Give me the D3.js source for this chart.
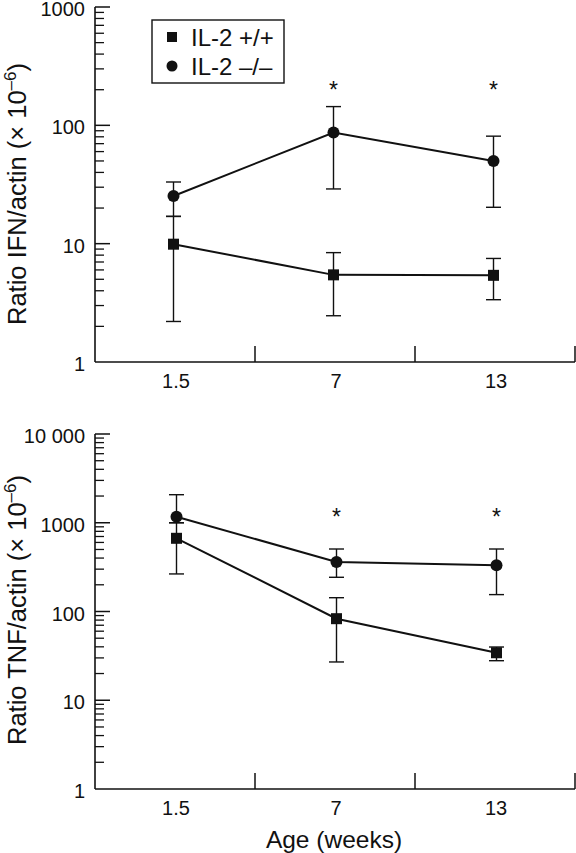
<!DOCTYPE html>
<html>
<head>
<meta charset="utf-8">
<script src="https://cdn.jsdelivr.net/npm/d3@7"></script>
<style>
  html, body { margin: 0; padding: 0; background: #fff; }
  svg { display: block; }
  text { font-family: "Liberation Sans", Arial, Helvetica, sans-serif; fill: #111; }
</style>
</head>
<body>
<svg id="chart" width="576" height="853"></svg>
<script>
// ---------- data ----------
const categories = ["1.5", "7", "13"];          // age (weeks)
const seriesNames = ["IL-2 +/+", "IL-2 \u2013/\u2013"];

// IFN / actin (x10^-6)
const ifnWT      = [9.9, 5.45, 5.4];
const ifnWTLow   = [2.2, 2.46, 3.36];
const ifnWTHigh  = [17, 8.4, 7.5];
const ifnKO      = [25.3, 87, 50];
const ifnKOLow   = [17, 29, 20.3];
const ifnKOHigh  = [33.2, 144, 81];
const ifnSignif  = [false, true, true];

// TNF / actin (x10^-6)
const tnfWT      = [668, 83, 34.3];
const tnfWTLow   = [265, 27, 27.9];
const tnfWTHigh  = [1000, 143, 39.8];
const tnfKO      = [1170, 361, 331];
const tnfKOLow   = [1000, 243, 155];
const tnfKOHigh  = [2070, 506, 506];
const tnfSignif  = [false, true, true];

const ifnTicks = [1, 10, 100, 1000];
const ifnTickLabels = ["1", "10", "100", "1000"];
const tnfTicks = [1, 10, 100, 1000, 10000];
const tnfTickLabels = ["1", "10", "100", "1000", "10 000"];

// ---------- drawing ----------
const svg = d3.select("#chart");
const axisX0 = 95, axisX1 = 575;

function panel(cfg) {
  const g = svg.append("g");
  const x = d3.scaleBand().domain(categories).range([axisX0, axisX1]);
  const cx = d => x(d) + x.bandwidth() / 2 + cfg.dx;
  const y = d3.scaleLog().domain(cfg.domain).range([cfg.yBottom, cfg.yTop]);

  // y axis line
  g.append("line").attr("x1", axisX0).attr("x2", axisX0)
    .attr("y1", y(cfg.domain[0])).attr("y2", y(cfg.domain[1]))
    .attr("stroke", "#111").attr("stroke-width", 1.6);
  // minor + major ticks
  const minor = [];
  for (let dec = cfg.domain[0]; dec < cfg.domain[1]; dec *= 10)
    for (let m = 2; m <= 9; m++) minor.push(dec * m);
  g.selectAll(".minor").data(minor).join("line")
    .attr("x1", axisX0).attr("x2", axisX0 + 9)
    .attr("y1", d => y(d)).attr("y2", d => y(d))
    .attr("stroke", "#111").attr("stroke-width", 1.3);
  g.selectAll(".major").data(cfg.ticks.slice(1)).join("line")
    .attr("x1", axisX0).attr("x2", axisX0 + 15)
    .attr("y1", d => y(d)).attr("y2", d => y(d))
    .attr("stroke", "#111").attr("stroke-width", 1.5);
  g.selectAll(".ylab").data(cfg.ticks).join("text")
    .attr("x", 85).attr("y", d => y(d) + 9)
    .attr("text-anchor", "end").attr("font-size", 20)
    .text((d, i) => cfg.tickLabels[i]);

  // x axis
  g.append("line").attr("x1", axisX0).attr("x2", axisX1)
    .attr("y1", cfg.yBottom).attr("y2", cfg.yBottom)
    .attr("stroke", "#111").attr("stroke-width", 1.6);
  const bounds = categories.slice(1).map(c => x(c)).concat([axisX1]);
  g.selectAll(".xt").data(bounds).join("line")
    .attr("x1", d => d).attr("x2", d => d)
    .attr("y1", cfg.yBottom).attr("y2", cfg.yBottom - 16)
    .attr("stroke", "#111").attr("stroke-width", 1.5);
  g.selectAll(".xlab").data(categories).join("text")
    .attr("x", d => x(d) + x.bandwidth() / 2 + 1).attr("y", cfg.yBottom + 26)
    .attr("text-anchor", "middle").attr("font-size", 20)
    .text(d => d);

  // y title
  const t = g.append("text")
    .attr("transform", `translate(26,${cfg.titleY}) rotate(-90)`)
    .attr("text-anchor", "middle").attr("font-size", 25.5);
  t.append("tspan").text(cfg.title + " (\u00d7 10");
  t.append("tspan").attr("dy", -10).attr("font-size", 17).text("\u20136");
  t.append("tspan").attr("dy", 10).text(")");

  // series
  const series = [
    { v: cfg.wt, lo: cfg.wtLo, hi: cfg.wtHi, shape: "square" },
    { v: cfg.ko, lo: cfg.koLo, hi: cfg.koHi, shape: "circle" }
  ];
  series.forEach(s => {
    const pts = categories.map((c, i) => ({ c, v: s.v[i], lo: s.lo[i], hi: s.hi[i] }));
    // error bars
    const eb = g.append("g").attr("stroke", "#111").attr("stroke-width", 1.4);
    eb.selectAll(".v").data(pts).join("line")
      .attr("x1", d => cx(d.c)).attr("x2", d => cx(d.c))
      .attr("y1", d => y(d.lo)).attr("y2", d => y(d.hi));
    eb.selectAll(".capH").data(pts).join("line")
      .attr("x1", d => cx(d.c) - 7.5).attr("x2", d => cx(d.c) + 7.5)
      .attr("y1", d => y(d.hi)).attr("y2", d => y(d.hi));
    eb.selectAll(".capL").data(pts).join("line")
      .attr("x1", d => cx(d.c) - 7.5).attr("x2", d => cx(d.c) + 7.5)
      .attr("y1", d => y(d.lo)).attr("y2", d => y(d.lo));
    // line
    g.append("path").datum(pts)
      .attr("d", d3.line().x(d => cx(d.c)).y(d => y(d.v)))
      .attr("fill", "none").attr("stroke", "#111").attr("stroke-width", 2);
    // markers
    if (s.shape === "square") {
      g.selectAll(null).data(pts).join("rect")
        .attr("x", d => cx(d.c) - 5.5).attr("y", d => y(d.v) - 5.5)
        .attr("width", 11).attr("height", 11).attr("fill", "#111");
    } else {
      g.selectAll(null).data(pts).join("circle")
        .attr("cx", d => cx(d.c)).attr("cy", d => y(d.v))
        .attr("r", 6).attr("fill", "#111");
    }
  });

  // significance asterisks
  g.selectAll(".ast").data(categories.filter((c, i) => cfg.signif[i])).join("text")
    .attr("x", d => cx(d)).attr("y", cfg.astY + 13)
    .attr("text-anchor", "middle").attr("font-size", 23)
    .text("*");
}

panel({
  domain: [1, 1000], yBottom: 362, yTop: 7, dx: -1.5,
  ticks: ifnTicks, tickLabels: ifnTickLabels,
  title: "Ratio IFN/actin", titleY: 194,
  wt: ifnWT, wtLo: ifnWTLow, wtHi: ifnWTHigh,
  ko: ifnKO, koLo: ifnKOLow, koHi: ifnKOHigh,
  signif: ifnSignif, astY: 85
});

panel({
  domain: [1, 10000], yBottom: 789, yTop: 434, dx: 1.5,
  ticks: tnfTicks, tickLabels: tnfTickLabels,
  title: "Ratio TNF/actin", titleY: 610,
  wt: tnfWT, wtLo: tnfWTLow, wtHi: tnfWTHigh,
  ko: tnfKO, koLo: tnfKOLow, koHi: tnfKOHigh,
  signif: tnfSignif, astY: 512
});

// legend
const leg = svg.append("g");
leg.append("rect").attr("x", 152).attr("y", 20).attr("width", 132).attr("height", 63)
  .attr("fill", "#fff").attr("stroke", "#111").attr("stroke-width", 1.4);
const legItems = seriesNames.map((n, i) => ({ n, i }));
leg.selectAll(".lm").data(legItems).join(enter => enter.append(d => document.createElementNS("http://www.w3.org/2000/svg", d.i === 0 ? "rect" : "circle")))
  .each(function(d) {
    const el = d3.select(this);
    const yy = 37 + d.i * 29;
    if (d.i === 0) el.attr("x", 167).attr("y", yy - 5).attr("width", 10).attr("height", 10);
    else el.attr("cx", 172).attr("cy", yy).attr("r", 5.5);
    el.attr("fill", "#111");
  });
leg.selectAll(".lt").data(legItems).join("text")
  .attr("x", 191).attr("y", d => 37 + d.i * 29 + 8.5)
  .attr("font-size", 24).text(d => d.n);

// x title
svg.append("text").attr("x", 334).attr("y", 848).attr("text-anchor", "middle")
  .attr("font-size", 24.5).text("Age (weeks)");
</script>
</body>
</html>
